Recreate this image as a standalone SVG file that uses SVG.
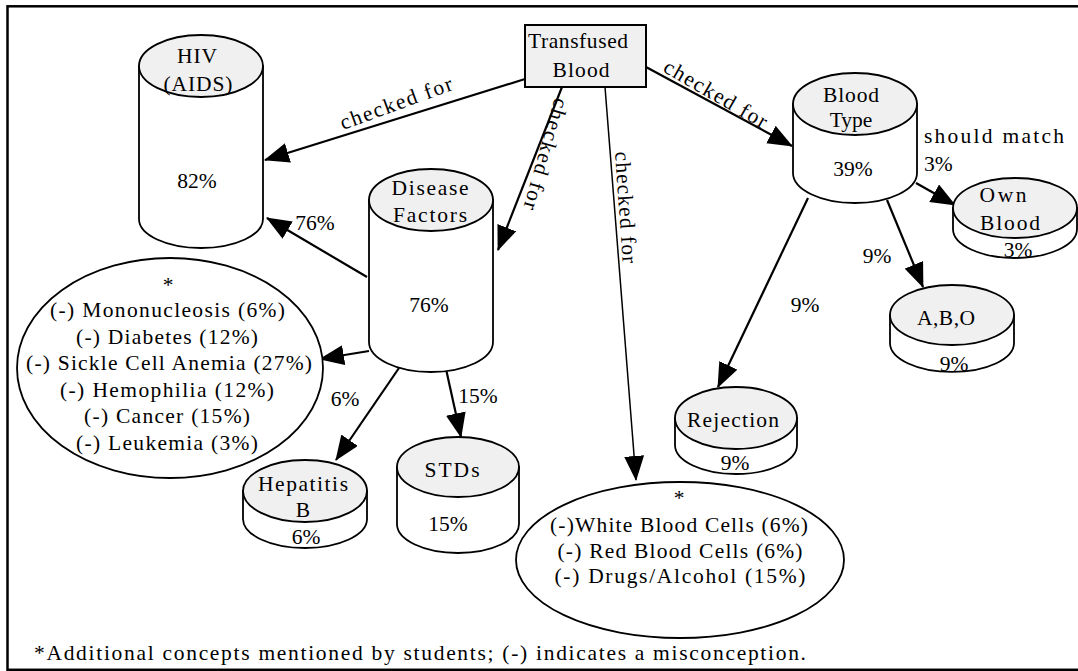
<svg xmlns="http://www.w3.org/2000/svg" width="1078" height="671" viewBox="0 0 1078 671">
  <style>
    text { font-family: "Liberation Serif", "Times New Roman", serif; font-size: 21.5px; fill: #000; }
    .c { text-anchor: middle; }
    .frame { fill: none; stroke: #000; stroke-width: 2.5; }
    .box { fill: #f0f0f0; stroke: #000; stroke-width: 2; }
    .body { fill: #fff; stroke: #000; stroke-width: 1.8; }
    .lid { fill: #f0f0f0; stroke: #000; stroke-width: 1.8; }
    .oval { fill: #fff; stroke: #000; stroke-width: 1.8; }
    .edge { fill: none; stroke: #000; stroke-width: 2.2; marker-end: url(#arrow); }
    .edge.thin { stroke-width: 1.5; }
  </style>
  <defs>
    <marker id="arrow" viewBox="0 0 25 20" markerWidth="25" markerHeight="20" refX="24" refY="10" orient="auto" markerUnits="userSpaceOnUse">
      <path d="M0,0 L25,10 L0,20 Z" fill="#000"/>
    </marker>
  </defs>

  <rect class="frame" x="7.5" y="6.3" width="1090" height="663.5"/>

  <!-- connectors -->
  <g id="connectors">
    <line class="edge" x1="525" y1="79" x2="265" y2="160"/>
    <line class="edge" x1="367" y1="277" x2="267" y2="218"/>
    <line class="edge" x1="562" y1="87" x2="498" y2="250"/>
    <line class="edge thin" x1="605" y1="87" x2="636" y2="480"/>
    <line class="edge" x1="646" y1="67" x2="792" y2="146"/>
    <line class="edge" x1="916" y1="183" x2="955" y2="205"/>
    <line class="edge" x1="887" y1="200" x2="923" y2="287"/>
    <line class="edge" x1="808" y1="198" x2="718" y2="387"/>
    <line class="edge" x1="369" y1="351" x2="320" y2="359"/>
    <line class="edge" x1="399" y1="368" x2="336" y2="460"/>
    <line class="edge" x1="446" y1="369" x2="461" y2="437"/>

    <text transform="translate(343,130) rotate(-20)" textLength="118" lengthAdjust="spacing">checked for</text>
    <text transform="translate(555,97) rotate(106)" textLength="115" lengthAdjust="spacing">checked for</text>
    <text transform="translate(615,152) rotate(86)" textLength="112" lengthAdjust="spacing">checked for</text>
    <text transform="translate(662,71) rotate(30)" textLength="116" lengthAdjust="spacing">checked for</text>
    <text class="c" x="315" y="230">76%</text>
    <text class="c" x="345" y="406">6%</text>
    <text class="c" x="478" y="403">15%</text>
    <text x="924" y="143" textLength="140" lengthAdjust="spacing">should match</text>
    <text x="924" y="171">3%</text>
    <text class="c" x="877" y="263">9%</text>
    <text class="c" x="805" y="312">9%</text>
  </g>

  <g id="transfused-blood">
    <rect class="box" x="525" y="25" width="121" height="62"/>
    <text class="c" x="578" y="48" textLength="100" lengthAdjust="spacing">Transfused</text>
    <text class="c" x="581" y="77" textLength="57" lengthAdjust="spacing">Blood</text>
  </g>

  <g id="hiv">
    <path class="body" d="M139,66 L139,219 A62,29 0 0 0 263,219 L263,66 Z"/>
    <ellipse class="lid" cx="201" cy="66" rx="62" ry="31"/>
    <text class="c" x="197" y="63" textLength="40" lengthAdjust="spacing">HIV</text>
    <text class="c" x="198" y="91" textLength="69" lengthAdjust="spacing">(AIDS)</text>
    <text class="c" x="197" y="188">82%</text>
  </g>

  <g id="disease-factors">
    <path class="body" d="M369,200 L369,342 A62,30 0 0 0 493,342 L493,200 Z"/>
    <ellipse class="lid" cx="431" cy="200" rx="62" ry="31"/>
    <text class="c" x="430" y="195" textLength="77" lengthAdjust="spacing">Disease</text>
    <text class="c" x="430" y="222" textLength="74" lengthAdjust="spacing">Factors</text>
    <text class="c" x="429" y="312">76%</text>
  </g>

  <g id="disease-misconceptions">
    <ellipse class="oval" cx="170" cy="368" rx="153" ry="110"/>
    <text class="c" x="168" y="292">*</text>
    <text class="c" x="167.5" y="317" textLength="235" lengthAdjust="spacing">(-) Mononucleosis (6%)</text>
    <text class="c" x="167" y="344" textLength="182" lengthAdjust="spacing">(-) Diabetes (12%)</text>
    <text class="c" x="169" y="370" textLength="286" lengthAdjust="spacing">(-) Sickle Cell Anemia (27%)</text>
    <text class="c" x="167" y="397" textLength="214" lengthAdjust="spacing">(-) Hemophilia (12%)</text>
    <text class="c" x="167" y="423" textLength="166" lengthAdjust="spacing">(-) Cancer (15%)</text>
    <text class="c" x="167" y="450" textLength="182" lengthAdjust="spacing">(-) Leukemia (3%)</text>
  </g>

  <g id="hepatitis-b">
    <path class="body" d="M243,491 L243,519 A62,29 0 0 0 367,519 L367,491 Z"/>
    <ellipse class="lid" cx="305" cy="491" rx="62" ry="31"/>
    <text class="c" x="303" y="491" textLength="90" lengthAdjust="spacing">Hepatitis</text>
    <text class="c" x="303" y="517">B</text>
    <text class="c" x="306" y="544">6%</text>
  </g>

  <g id="stds">
    <path class="body" d="M397,467 L397,524 A61,29 0 0 0 519,524 L519,467 Z"/>
    <ellipse class="lid" cx="458" cy="467" rx="61" ry="30"/>
    <text class="c" x="452" y="477" textLength="55" lengthAdjust="spacing">STDs</text>
    <text class="c" x="448" y="531">15%</text>
  </g>

  <g id="blood-type">
    <path class="body" d="M793,104 L793,173 A62,30 0 0 0 917,173 L917,104 Z"/>
    <ellipse class="lid" cx="855" cy="104" rx="62" ry="31"/>
    <text class="c" x="851" y="102" textLength="56" lengthAdjust="spacing">Blood</text>
    <text class="c" x="851" y="127">Type</text>
    <text class="c" x="853" y="176">39%</text>
  </g>

  <g id="own-blood">
    <path class="body" d="M953,208 L953,229 A62,29 0 0 0 1077,229 L1077,208 Z"/>
    <ellipse class="lid" cx="1015" cy="208" rx="62" ry="30"/>
    <text class="c" x="1003" y="202" textLength="47" lengthAdjust="spacing">Own</text>
    <text class="c" x="1010" y="230" textLength="60" lengthAdjust="spacing">Blood</text>
    <text class="c" x="1018" y="257">3%</text>
  </g>

  <g id="abo">
    <path class="body" d="M890,315 L890,343 A62,29 0 0 0 1014,343 L1014,315 Z"/>
    <ellipse class="lid" cx="952" cy="315" rx="62" ry="30"/>
    <text class="c" x="946" y="325" textLength="58" lengthAdjust="spacing">A,B,O</text>
    <text class="c" x="954" y="371">9%</text>
  </g>

  <g id="rejection">
    <path class="body" d="M675,418 L675,445 A61,29 0 0 0 797,445 L797,418 Z"/>
    <ellipse class="lid" cx="736" cy="418" rx="61" ry="31"/>
    <text class="c" x="733" y="427" textLength="92" lengthAdjust="spacing">Rejection</text>
    <text class="c" x="735" y="470">9%</text>
  </g>

  <g id="other-misconceptions">
    <ellipse class="oval" cx="680" cy="560" rx="164" ry="78"/>
    <text class="c" x="679" y="505">*</text>
    <text class="c" x="679" y="532" textLength="258" lengthAdjust="spacing">(-)White Blood Cells (6%)</text>
    <text class="c" x="680" y="558" textLength="245" lengthAdjust="spacing">(-) Red Blood Cells (6%)</text>
    <text class="c" x="680" y="583" textLength="251" lengthAdjust="spacing">(-) Drugs/Alcohol (15%)</text>
  </g>

  <text id="footnote" x="34" y="660" textLength="772" lengthAdjust="spacing">*Additional concepts mentioned by students; (-) indicates a misconception.</text>
</svg>
